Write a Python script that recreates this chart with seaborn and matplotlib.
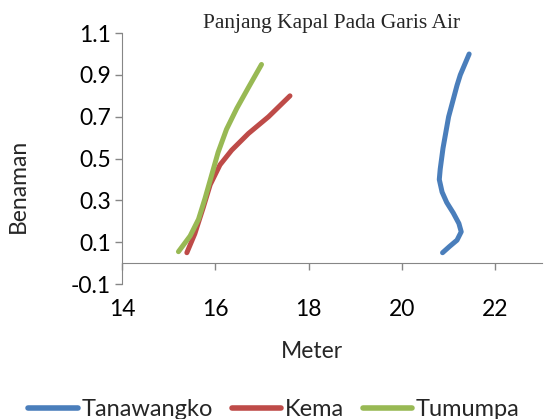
import matplotlib
matplotlib.use("Agg")
import matplotlib.pyplot as plt
import seaborn as sns
import pandas as pd

# data (x = meter, y = benaman)
tanawangko_x = [20.87, 21.02, 21.18, 21.27, 21.22, 21.10, 20.96, 20.86, 20.80, 20.82, 20.85, 20.88, 20.92, 20.96, 21.00, 21.06, 21.12, 21.18, 21.25, 21.44]
tanawangko_y = [0.05, 0.08, 0.11, 0.15, 0.19, 0.24, 0.29, 0.34, 0.40, 0.45, 0.50, 0.55, 0.60, 0.65, 0.70, 0.75, 0.80, 0.85, 0.90, 1.00]

kema_x = [15.39, 15.56, 15.74, 15.89, 16.10, 16.35, 16.71, 17.14, 17.60]
kema_y = [0.05, 0.14, 0.265, 0.375, 0.47, 0.54, 0.62, 0.70, 0.80]

tumumpa_x = [15.21, 15.46, 15.64, 15.78, 15.92, 16.06, 16.24, 16.46, 16.71, 16.99]
tumumpa_y = [0.055, 0.13, 0.21, 0.31, 0.42, 0.53, 0.64, 0.74, 0.84, 0.95]

names = ["Tanawangko", "Kema", "Tumumpa"]
colors = ["#4A7EBB", "#BE4B48", "#98B954"]

x_ticks = [14, 16, 18, 20, 22]
y_ticks = [-0.1, 0.1, 0.3, 0.5, 0.7, 0.9, 1.1]

frames = []
for name, xs, ys in zip(names,
                        [tanawangko_x, kema_x, tumumpa_x],
                        [tanawangko_y, kema_y, tumumpa_y]):
    frames.append(pd.DataFrame({"Meter": xs, "Benaman": ys, "Lokasi": name}))
df = pd.concat(frames, ignore_index=True)

sns.set_style("white")
plt.rcParams["font.family"] = ["Lato", "DejaVu Sans"]

fig = plt.figure(figsize=(5.53, 4.19), dpi=100)
ax = fig.add_axes([0.2206, 0.322, 0.7594, 0.599])

sns.lineplot(data=df, x="Meter", y="Benaman", hue="Lokasi", sort=False,
             estimator=None, palette=colors, linewidth=3.6, ax=ax,
             solid_capstyle="round", solid_joinstyle="round", legend=True)

ax.set_xlim(14, 23)
ax.set_ylim(-0.1, 1.1)
ax.set_xticks(x_ticks)
ax.set_yticks(y_ticks)
ax.set_yticklabels([f"{v:.1f}" for v in y_ticks])

grey = "#868686"
ax.spines["top"].set_visible(False)
ax.spines["right"].set_visible(False)
ax.spines["left"].set_color(grey)
ax.spines["bottom"].set_color(grey)
ax.spines["bottom"].set_position(("data", 0))
ax.tick_params(axis="both", colors=grey, labelcolor="black", labelsize=16.5,
               direction="out", length=5, width=1)
ax.tick_params(axis="x", pad=21)
ax.tick_params(axis="y", pad=3)
ax.tick_params(bottom=True, left=True)

ax.set_xlabel("Meter", fontsize=16.5)
ax.xaxis.set_label_coords(0.452, -0.225)
ax.set_ylabel("Benaman", fontsize=16.5)
ax.yaxis.set_label_coords(-0.222, 0.39)
ax.set_title("Panjang Kapal Pada Garis Air", fontsize=15.5,
             family="Liberation Serif", x=0.5, pad=4)

handles, labels = ax.get_legend_handles_labels()
ax.get_legend().remove()
leg = fig.legend(handles, labels, loc="center", bbox_to_anchor=(0.4955, 0.022),
                 ncol=3, frameon=False, fontsize=17, handlelength=2.1,
                 handletextpad=0.15, columnspacing=0.8)
for line in leg.get_lines():
    line.set_linewidth(4)
    line.set_solid_capstyle("round")

fig.savefig("out.png", dpi=100)
